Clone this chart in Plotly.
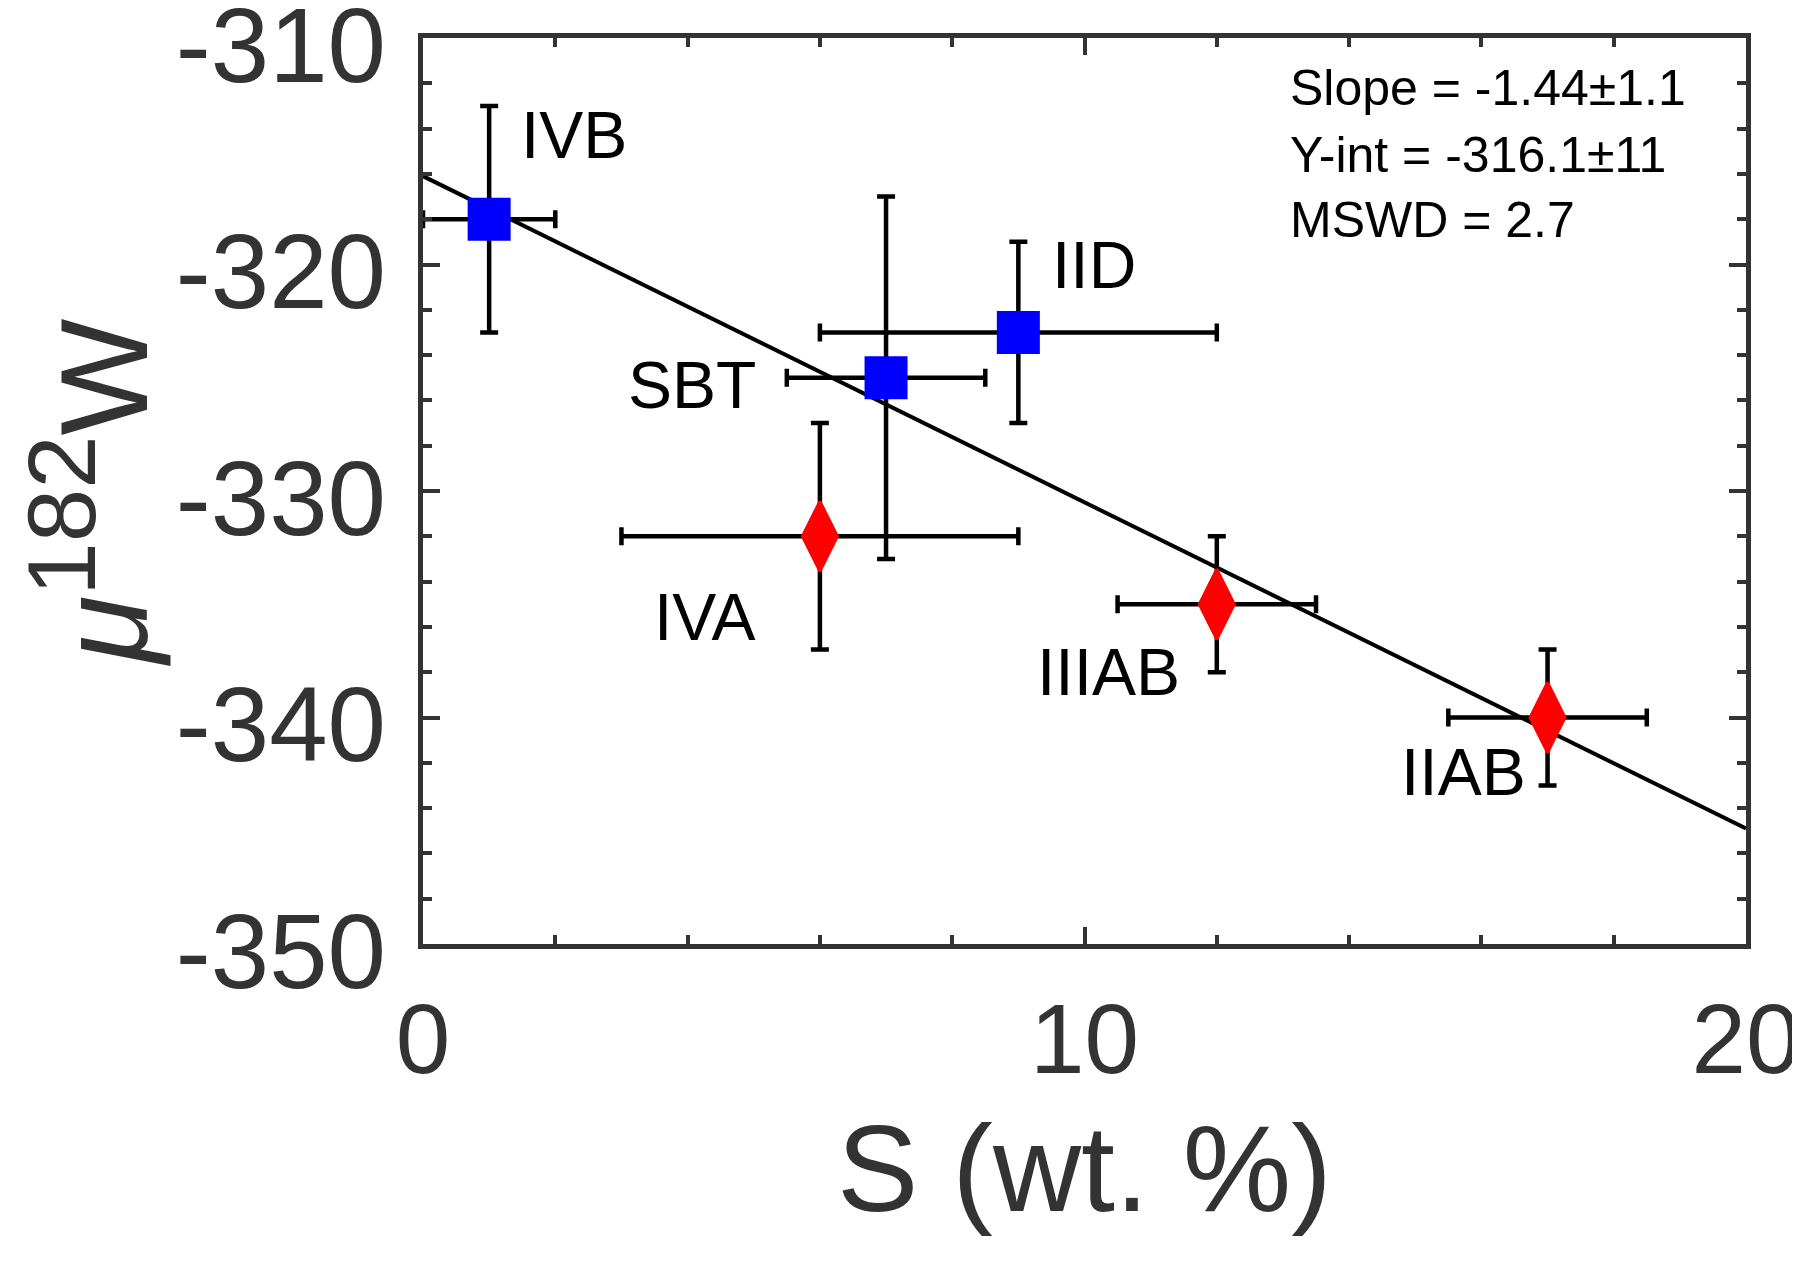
import plotly.graph_objects as go

# ---- data ----
iron_groups_blue = ["IVB", "SBT", "IID"]
s_blue = [1.0, 7.0, 9.0]
s_err_blue = [1.0, 1.5, 3.0]
mu_blue = [-318.0, -325.0, -323.0]
mu_err_blue = [5.0, 8.0, 4.0]

iron_groups_red = ["IVA", "IIIAB", "IIAB"]
s_red = [6.0, 12.0, 17.0]
s_err_red = [3.0, 1.5, 1.5]
mu_red = [-332.0, -335.0, -340.0]
mu_err_red = [5.0, 3.0, 3.0]

fit_slope = -1.44
fit_intercept = -316.1
fit_x = [0, 20]

label_names = ["IVB", "IID", "SBT", "IVA", "IIIAB", "IIAB"]
label_x = [2.29, 10.15, 4.06, 4.25, 10.37, 15.73]
label_y = [-314.3, -320.0, -325.3, -335.55, -337.98, -342.4]

stats_lines = ["Slope = -1.44±1.1", "Y-int = -316.1±11", "MSWD = 2.7"]

x_tickvals = [0, 10, 20]
x_ticktext = ["0", "10", "20"]
y_tickvals = [-350, -340, -330, -320, -310]
y_ticktext = ["-350", "-340", "-330", "-320", "-310"]

FONT = "Liberation Sans, Arial, sans-serif"
AX = "#333333"

fig = go.Figure()

fit_y = [fit_intercept + fit_slope * x for x in fit_x]
fig.add_trace(go.Scatter(x=fit_x, y=fit_y, mode="lines",
                         line=dict(color="black", width=4), showlegend=False))

err_style = dict(color="black", thickness=4.5, width=9)

fig.add_trace(go.Scatter(
    x=s_blue, y=mu_blue, mode="markers",
    marker=dict(symbol="square", size=43, color="#0000FF", line=dict(width=0)),
    error_x=dict(type="data", array=s_err_blue, **err_style),
    error_y=dict(type="data", array=mu_err_blue, **err_style),
    text=iron_groups_blue, showlegend=False))

fig.add_trace(go.Scatter(
    x=s_red, y=mu_red, mode="markers",
    marker=dict(symbol="diamond-tall", size=50, color="#FF0000", line=dict(width=3, color="#FF0000")),
    error_x=dict(type="data", array=s_err_red, **err_style),
    error_y=dict(type="data", array=mu_err_red, **err_style),
    text=iron_groups_red, showlegend=False))

for name, lx, ly in zip(label_names, label_x, label_y):
    fig.add_annotation(x=lx, y=ly, xref="x", yref="y", text=name, showarrow=False,
                       font=dict(family=FONT, size=66, color="black"),
                       xanchor="center", yanchor="middle")

stats_y = [0.945, 0.871, 0.799]
for line, sy in zip(stats_lines, stats_y):
    fig.add_annotation(x=0.654, y=sy, xref="paper", yref="paper", text=line,
                       showarrow=False, xanchor="left", yanchor="middle",
                       font=dict(family=FONT, size=50, color="black"))

axis_common = dict(
    showline=True, linecolor=AX, linewidth=5, mirror="ticks",
    ticks="inside", ticklen=17, tickwidth=4, tickcolor=AX,
    showgrid=False, zeroline=False, automargin=False,
    ticklabeloverflow="allow",
)

fig.update_xaxes(range=[0, 20], tickvals=x_tickvals, ticktext=x_ticktext,
                 ticklabelstandoff=6,
                 tickfont=dict(family=FONT, size=98, color=AX),
                 minor=dict(ticks="inside", ticklen=9, tickwidth=4, tickcolor=AX,
                            tick0=0, dtick=2, showgrid=False),
                 title=dict(text="S (wt. %)", font=dict(family=FONT, size=122, color=AX), standoff=35),
                 **axis_common)
fig.update_yaxes(range=[-350, -310], tickvals=y_tickvals, ticktext=y_ticktext,
                 ticklabelstandoff=11, ticklabelshift=7,
                 tickfont=dict(family=FONT, size=105, color=AX),
                 minor=dict(ticks="inside", ticklen=9, tickwidth=4, tickcolor=AX,
                            tick0=-350, dtick=2, showgrid=False),
                 title=dict(text="<i>μ</i><sup><span style='font-size:96px'>182</span></sup>W",
                            font=dict(family=FONT, size=124, color=AX), standoff=6),
                 **axis_common)

fig.update_layout(
    width=1792, height=1253,
    margin=dict(l=415, r=54, t=30, b=317, pad=0, autoexpand=False),
    plot_bgcolor="white", paper_bgcolor="white",
    font=dict(family=FONT),
)

fig.write_html("out.html")
